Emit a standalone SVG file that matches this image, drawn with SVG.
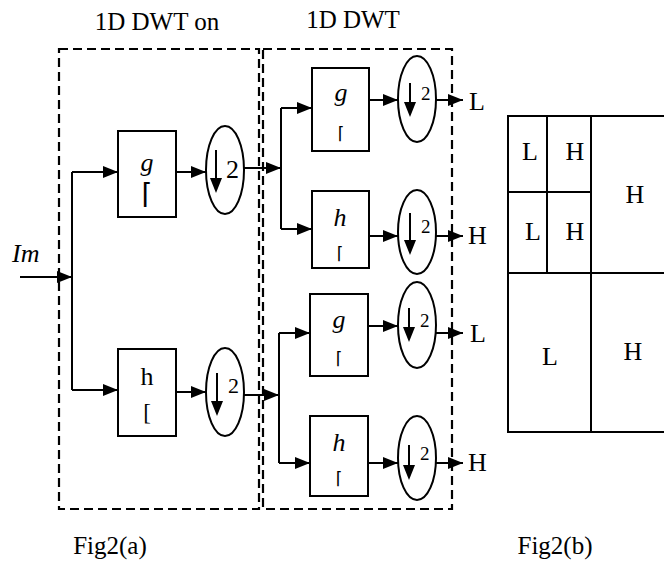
<svg xmlns="http://www.w3.org/2000/svg" width="664" height="562" viewBox="0 0 664 562" font-family="'Liberation Serif', 'Times New Roman', serif">
<style>
text{font-family:'Liberation Serif', 'Times New Roman', serif;fill:#000}
.t{font-size:25px}
.lab{font-size:26px}
.it{font-style:italic}
.box{fill:#fff;stroke:#000;stroke-width:2}
.ell{fill:#fff;stroke:#000;stroke-width:2}
.dash{fill:none;stroke:#000;stroke-width:2.2;stroke-dasharray:9 5}
.con{fill:none;stroke:#000;stroke-width:2}
.shaft{stroke:#000;stroke-width:2}
.grid{fill:none;stroke:#000;stroke-width:2}
text.br{font-family:'DejaVu Sans',sans-serif}
</style>
<defs>
<marker id="ah" markerUnits="userSpaceOnUse" markerWidth="15" markerHeight="12" refX="15" refY="6" orient="auto">
<path d="M0,0 L15,6 L0,12 z" fill="#000"/>
</marker>
</defs>
<rect width="664" height="562" fill="#fff"/>

<g id="titles">
<text class="t" x="157" y="30" text-anchor="middle">1D DWT on</text>
<text class="t" x="353" y="28" text-anchor="middle">1D DWT</text>
<text class="t" x="110" y="554" text-anchor="middle">Fig2(a)</text>
<text class="t" x="555" y="554" text-anchor="middle">Fig2(b)</text>
</g>

<g id="stage1-frame"><rect class="dash" x="59" y="49" width="200" height="460"/></g>
<g id="stage2-frame"><rect class="dash" x="263" y="49" width="189" height="460"/></g>

<g id="input"><text class="lab it" x="12" y="262">Im</text></g>

<g id="g1"><rect class="box" x="118" y="131" width="58" height="86"/>
<text class="lab it" x="147" y="171" text-anchor="middle">g</text>
<text class="br" font-size="28" x="147" y="203" text-anchor="middle">⌈</text></g>
<g id="h1"><rect class="box" x="118" y="349" width="58" height="87"/>
<text class="lab" x="147" y="385" text-anchor="middle">h</text>
<text style="font-size:23px" x="147" y="420" text-anchor="middle">[</text></g>

<g id="d1"><ellipse class="ell" cx="225" cy="170" rx="19" ry="44"/>
<line class="shaft" x1="216" y1="150" x2="216" y2="180"/><path d="M210,178 L222,178 L216,193 z"/>
<text style="font-size:26px" x="226" y="178">2</text></g>
<g id="d2"><ellipse class="ell" cx="225" cy="392" rx="19" ry="44"/>
<line class="shaft" x1="217" y1="373" x2="217" y2="403"/><path d="M211,401 L223,401 L217,416 z"/>
<text style="font-size:22px" x="228" y="393">2</text></g>

<g id="g2a"><rect class="box" x="312" y="68" width="57" height="83"/>
<text class="lab it" x="341" y="101" text-anchor="middle">g</text>
<text class="br" font-size="17" x="341" y="139" text-anchor="middle">⌈</text></g>
<g id="h2a"><rect class="box" x="312" y="191" width="57" height="77"/>
<text class="lab it" x="340" y="226" text-anchor="middle">h</text>
<text class="br" font-size="17" x="340" y="259" text-anchor="middle">⌈</text></g>
<g id="g2b"><rect class="box" x="310" y="294" width="58" height="82"/>
<text class="lab it" x="339" y="328" text-anchor="middle">g</text>
<text class="br" font-size="17" x="339" y="364" text-anchor="middle">⌈</text></g>
<g id="h2b"><rect class="box" x="310" y="416" width="58" height="80"/>
<text class="lab it" x="339" y="451" text-anchor="middle">h</text>
<text class="br" font-size="17" x="339" y="484" text-anchor="middle">⌈</text></g>

<g id="d3"><ellipse class="ell" cx="417" cy="99" rx="19" ry="43"/>
<line class="shaft" x1="410" y1="83" x2="410" y2="104"/><path d="M404,102 L416,102 L410,117 z"/>
<text style="font-size:19px" x="421" y="100">2</text></g>
<g id="d4"><ellipse class="ell" cx="417" cy="232" rx="19" ry="42"/>
<line class="shaft" x1="410" y1="213" x2="410" y2="242"/><path d="M404,240 L416,240 L410,255 z"/>
<text style="font-size:19px" x="421" y="233">2</text></g>
<g id="d5"><ellipse class="ell" cx="417" cy="325" rx="19" ry="43"/>
<line class="shaft" x1="409" y1="308" x2="409" y2="329"/><path d="M403,327 L415,327 L409,342 z"/>
<text style="font-size:19px" x="420" y="327">2</text></g>
<g id="d6"><ellipse class="ell" cx="417" cy="458" rx="19" ry="42"/>
<line class="shaft" x1="409" y1="445" x2="409" y2="467"/><path d="M403,465 L415,465 L409,480 z"/>
<text style="font-size:19px" x="420" y="460">2</text></g>

<g id="outputs">
<text class="lab" x="469" y="110">L</text>
<text class="lab" x="468" y="244">H</text>
<text class="lab" x="470" y="342">L</text>
<text class="lab" x="468" y="471">H</text>
</g>

<g id="connectors">
<path class="con" d="M20,277 H72" marker-end="url(#ah)"/>
<path class="con" d="M72,172 V390"/>
<path class="con" d="M72,172 H118" marker-end="url(#ah)"/>
<path class="con" d="M72,390 H118" marker-end="url(#ah)"/>
<path class="con" d="M176,172 H206" marker-end="url(#ah)"/>
<path class="con" d="M176,392 H206" marker-end="url(#ah)"/>
<path class="con" d="M244,168 H281" marker-end="url(#ah)"/>
<path class="con" d="M244,395 H279" marker-end="url(#ah)"/>
<path class="con" d="M281,108 V229"/>
<path class="con" d="M281,108 H312" marker-end="url(#ah)"/>
<path class="con" d="M281,229 H312" marker-end="url(#ah)"/>
<path class="con" d="M369,100 H398" marker-end="url(#ah)"/>
<path class="con" d="M369,236 H398" marker-end="url(#ah)"/>
<path class="con" d="M436,100 H463" marker-end="url(#ah)"/>
<path class="con" d="M436,236 H463" marker-end="url(#ah)"/>
<path class="con" d="M279,333 V463"/>
<path class="con" d="M279,333 H310" marker-end="url(#ah)"/>
<path class="con" d="M279,463 H310" marker-end="url(#ah)"/>
<path class="con" d="M368,326 H398" marker-end="url(#ah)"/>
<path class="con" d="M368,463 H398" marker-end="url(#ah)"/>
<path class="con" d="M436,333 H463" marker-end="url(#ah)"/>
<path class="con" d="M436,463 H463" marker-end="url(#ah)"/>
</g>

<g id="fig2b">
<rect class="grid" x="508" y="116" width="170" height="316" stroke-width="2.5"/>
<line class="grid" x1="591" y1="116" x2="591" y2="432"/>
<line class="grid" x1="508" y1="273" x2="664" y2="273"/>
<line class="grid" x1="547" y1="116" x2="547" y2="273"/>
<line class="grid" x1="508" y1="192" x2="591" y2="192"/>
<text class="lab" x="530" y="160" text-anchor="middle">L</text>
<text class="lab" x="575" y="160" text-anchor="middle">H</text>
<text class="lab" x="533" y="240" text-anchor="middle">L</text>
<text class="lab" x="575" y="240" text-anchor="middle">H</text>
<text class="lab" x="635" y="203" text-anchor="middle">H</text>
<text class="lab" x="550" y="365" text-anchor="middle">L</text>
<text class="lab" x="633" y="360" text-anchor="middle">H</text>
</g>
</svg>
